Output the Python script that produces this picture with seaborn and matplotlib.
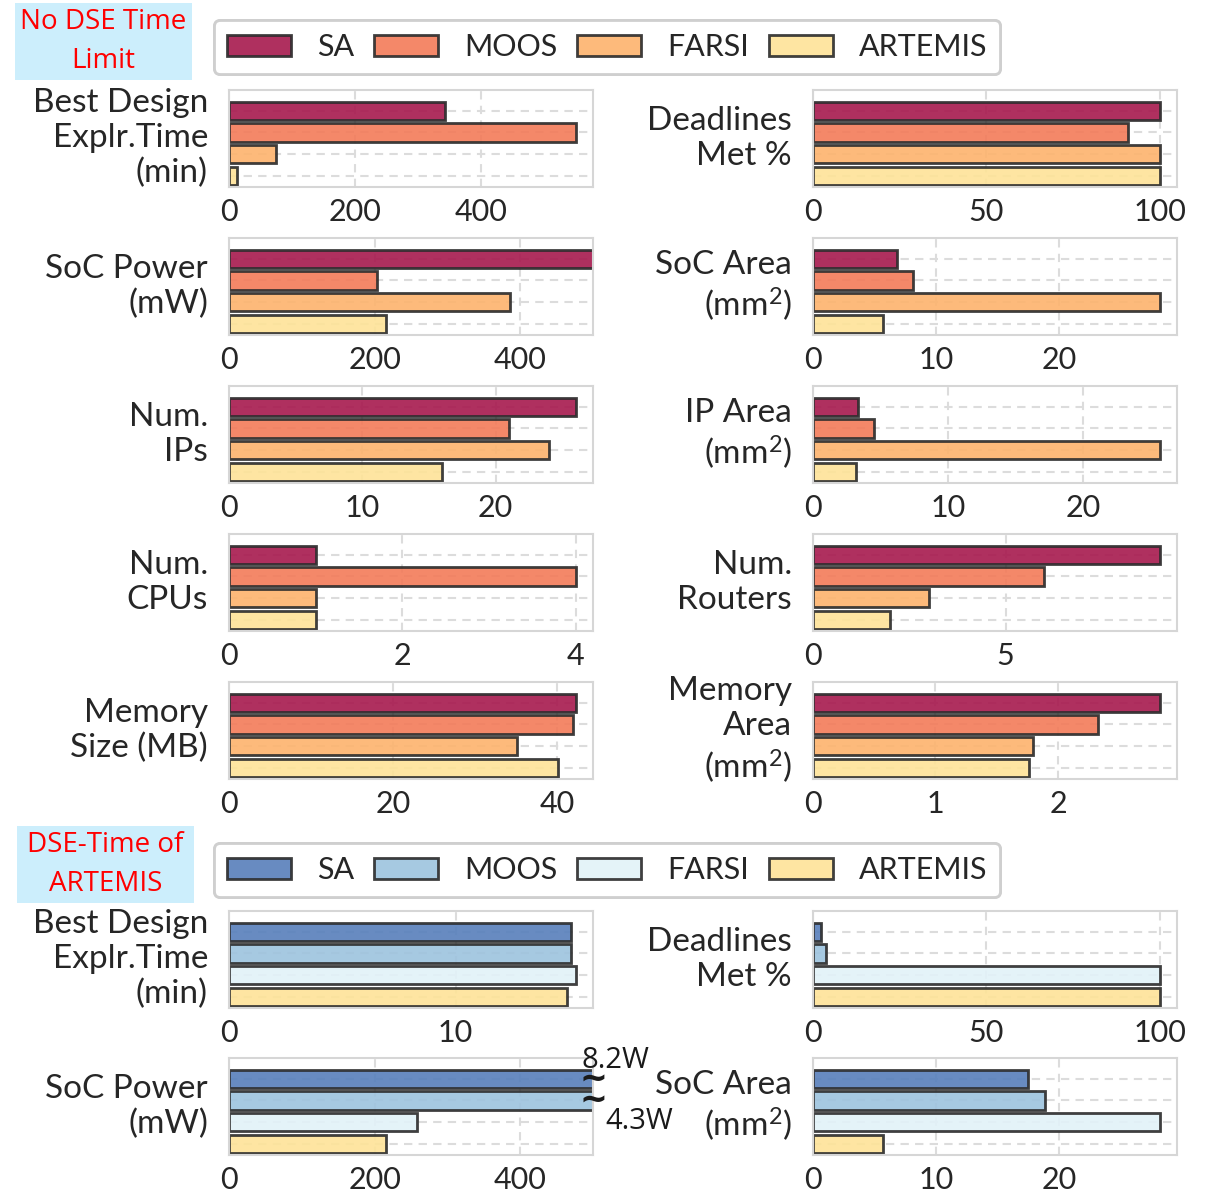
import matplotlib
matplotlib.use("Agg")
import matplotlib.pyplot as plt
import matplotlib.transforms as mtransforms
from matplotlib.patches import Patch
from matplotlib.ticker import MaxNLocator
import pandas as pd
import seaborn as sns

# ---- data -----------------------------------------------------------------
methods = ["SA", "MOOS", "FARSI", "ARTEMIS"]

# Group 1: no limit on design-space-exploration time
explr_time_min = [344, 551, 75, 13]
deadlines_met_pct = [100, 91, 100, 100]
soc_power_mw = [600, 203, 386, 216]          # SA runs off the 500 mW scale
soc_area_mm2 = [6.8, 8.1, 28.2, 5.7]
num_ips = [26, 21, 24, 16]
ip_area_mm2 = [3.3, 4.5, 25.7, 3.2]
num_cpus = [1, 4, 1, 1]
num_routers = [9, 6, 3, 2]
memory_size_mb = [42.3, 42.0, 35.1, 40.2]
memory_area_mm2 = [2.83, 2.33, 1.80, 1.76]

# Group 2: every method limited to the DSE time of ARTEMIS
explr_time_min_b = [15.1, 15.1, 15.3, 14.9]
deadlines_met_pct_b = [2.3, 3.7, 100, 100]
soc_power_mw_b = [8200, 4300, 258, 216]
soc_area_mm2_b = [17.5, 18.9, 28.2, 5.7]

power_axis_max = 500

warm_colors = ["#a7194e", "#f37b59", "#fdb36d", "#fee398"]
cool_colors = ["#577fbb", "#9dc3de", "#e2f2f8", "#fee398"]

# ---- style ----------------------------------------------------------------
sns.set_theme(style="whitegrid")
plt.rcParams["font.family"] = ["Lato", "DejaVu Sans"]
plt.rcParams["mathtext.fontset"] = "custom"
plt.rcParams["mathtext.rm"] = "Lato"
plt.rcParams["mathtext.it"] = "Lato:italic"
plt.rcParams["text.color"] = "#262626"

FS_TICK = 22
FS_LABEL = 24
W, H = 1214, 1195
fig = plt.figure(figsize=(W / 100, H / 100), dpi=100)

col_left = [229, 813]
ax_w = 364
ax_h = 97
row_tops = [90, 238, 386, 534, 682, 911, 1058]


def make_ax(col, row):
    left = col_left[col] / W
    bottom = 1 - (row_tops[row] + ax_h) / H
    return fig.add_axes([left, bottom, ax_w / W, ax_h / H])


def panel(ax, values, colors, label, xmax=None):
    df = pd.DataFrame({"method": methods, "value": values})
    sns.barplot(data=df, x="value", y="method", hue="method", palette=colors,
                order=methods, hue_order=methods, orient="h", width=0.84,
                saturation=1, edgecolor="#2b2b2b", linewidth=2, alpha=0.9,
                legend=False, ax=ax)
    if xmax is None:
        xmax = max(values) * 1.05
    ax.set_xlim(0, xmax)
    ax.set_ylim(3.53, -0.97)
    ax.xaxis.set_major_locator(MaxNLocator(nbins=3, steps=[1, 2, 5, 10]))
    ax.grid(True, axis="both", linestyle=(0, (4, 3)), color="#dcdcdc",
            linewidth=1.5)
    ax.set_axisbelow(True)
    ax.tick_params(axis="y", labelleft=False, length=0)
    ax.tick_params(axis="x", labelsize=FS_TICK, length=0, pad=8,
                   colors="#262626")
    ax.set_xlabel("")
    ax.set_ylabel(label, rotation=0, ha="right", va="center",
                  multialignment="right", fontsize=FS_LABEL, linespacing=1.2)
    ax.yaxis.set_label_coords(-0.058, 0.5)
    for s in ax.spines.values():
        s.set_color("#d6d6d6")
        s.set_linewidth(1.5)
    return ax


group1 = [
    (explr_time_min, "Best Design\nExplr.Time\n(min)", None),
    (deadlines_met_pct, "Deadlines\nMet %", None),
    (soc_power_mw, "SoC Power\n(mW)", power_axis_max),
    (soc_area_mm2, "SoC Area\n(mm$^2$)", None),
    (num_ips, "Num.\nIPs", None),
    (ip_area_mm2, "IP Area\n(mm$^2$)", None),
    (num_cpus, "Num.\nCPUs", None),
    (num_routers, "Num.\nRouters", None),
    (memory_size_mb, "Memory\nSize (MB)", None),
    (memory_area_mm2, "Memory\nArea\n(mm$^2$)", None),
]
for k, (vals, lab, xm) in enumerate(group1):
    panel(make_ax(k % 2, k // 2), vals, warm_colors, lab, xm)

group2 = [
    (explr_time_min_b, "Best Design\nExplr.Time\n(min)", None),
    (deadlines_met_pct_b, "Deadlines\nMet %", None),
    (soc_power_mw_b, "SoC Power\n(mW)", power_axis_max),
    (soc_area_mm2_b, "SoC Area\n(mm$^2$)", None),
]
axes2 = []
for k, (vals, lab, xm) in enumerate(group2):
    axes2.append(panel(make_ax(k % 2, 5 + k // 2), vals, cool_colors, lab, xm))

# break marks and true values for the off-scale power bars
pax = axes2[2]
trans = mtransforms.blended_transform_factory(pax.transAxes, pax.transData)
note_font = ["Open Sans", "DejaVu Sans"]
for i, v in enumerate(soc_power_mw_b):
    if v > power_axis_max:
        pax.text(1.0, i, "~", transform=trans, ha="center", va="center",
                 fontsize=24, fontweight="bold", color="#1a1a1a",
                 family=["DejaVu Sans"], clip_on=False, zorder=10)
lab_sa = f"{soc_power_mw_b[0] / 1000:.1f}W"
lab_moos = f"{soc_power_mw_b[1] / 1000:.1f}W"
pax.annotate(lab_sa, xy=(1.0, -0.42), xycoords=trans, xytext=(-8, 1),
             textcoords="offset points", ha="left", va="baseline",
             fontsize=21, family=note_font, color="#1a1a1a",
             annotation_clip=False, zorder=10)
pax.annotate(lab_moos, xy=(1.0, 1.3), xycoords=trans, xytext=(9, 0),
             textcoords="offset points", ha="left", va="top",
             fontsize=21, family=note_font, color="#1a1a1a",
             annotation_clip=False, zorder=10)


# legends
def legend(colors, y_px):
    handles = [Patch(facecolor=c, edgecolor="#2b2b2b", linewidth=2, alpha=0.9)
               for c in colors]
    leg = fig.legend(handles, methods, loc="center",
                     bbox_to_anchor=(607 / W, 1 - y_px / H), ncol=4,
                     fontsize=22, frameon=True, fancybox=True,
                     handlelength=2.1, handleheight=0.7, handletextpad=0.85,
                     columnspacing=0.65, borderpad=0.42, borderaxespad=0,
                     framealpha=1)
    leg.get_frame().set_edgecolor("#cfcfcf")
    leg.get_frame().set_linewidth(2)
    fig.add_artist(leg)


legend(warm_colors, 47)
legend(cool_colors, 870)

# group titles
for txt, (x0, y0, x1, y1) in [("No DSE Time\nLimit", (15, 3, 192, 80)),
                              ("DSE-Time of\nARTEMIS", (17, 826, 194, 903))]:
    fig.patches.append(plt.Rectangle((x0 / W, 1 - y1 / H), (x1 - x0) / W,
                                     (y1 - y0) / H, transform=fig.transFigure,
                                     facecolor="#cceefc", edgecolor="none"))
    fig.text((x0 + x1) / 2 / W, 1 - (y0 + y1) / 2 / H, txt, ha="center",
             va="center", color="#ff0000", fontsize=20, family=note_font,
             linespacing=1.5)

fig.savefig("out.png", dpi=100)
